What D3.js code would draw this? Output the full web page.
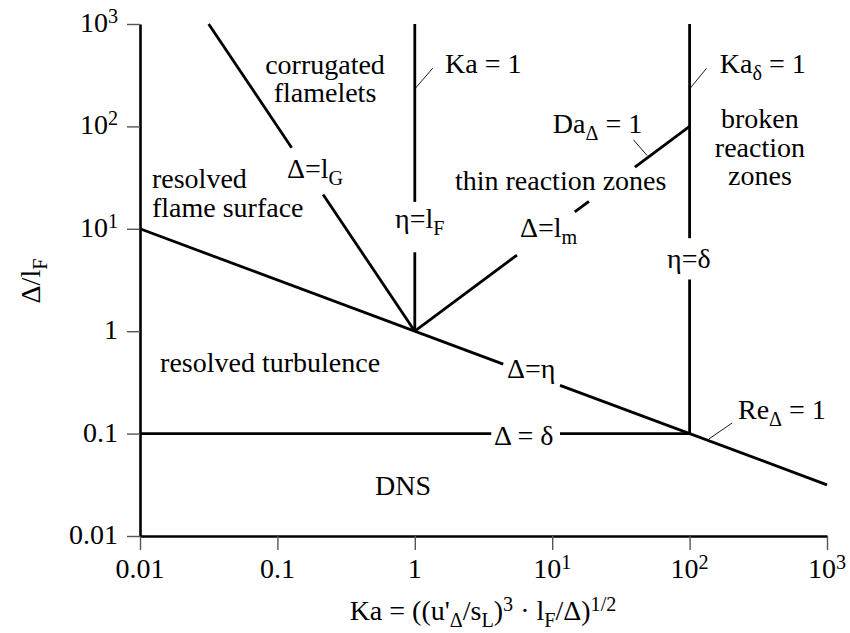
<!DOCTYPE html>
<html><head><meta charset="utf-8">
<script src="https://cdn.jsdelivr.net/npm/d3@7/dist/d3.min.js"></script>
<style>
html,body{margin:0;padding:0;background:#fff;}
</style></head>
<body><svg id="chart" width="850" height="633"></svg>
<script>
// ---- data ----
const xTicks = [0.01, 0.1, 1, 10, 100, 1000];
const xTickLabels = ["0.01", "0.1", "1", "10^{1}", "10^{2}", "10^{3}"];
const yTicks = [0.01, 0.1, 1, 10, 100, 1000];
const yTickLabels = ["0.01", "0.1", "1", "10^{1}", "10^{2}", "10^{3}"];

// regime boundary lines (Ka, Δ/lF), split where labels sit
const lineDeltaEta   = [[[0.01, 10], [4.4, 0.477]], [[11.4, 0.296], [1000, 0.0316]]];
const lineDeltaLG    = [[[0.0316, 1000], [0.127, 62]], [[0.215, 21.6], [1, 1]]];
const lineKa1        = [[[1, 1000], [1, 18.3]], [[1, 5.9], [1, 1]]];
const lineDeltaLm    = [[[1, 1], [5.54, 5.54]], [[14.6, 14.6], [18.5, 18.5]], [[40, 40], [100, 100]]];
const lineKaDelta1   = [[[100, 1000], [100, 8.1]], [[100, 3.2], [100, 0.1]]];
const lineDeltaDelta = [[[0.01, 0.1], [3.6, 0.1]], [[11.4, 0.1], [100, 0.1]]];
const boundaryLines = [lineDeltaEta, lineDeltaLG, lineKa1, lineDeltaLm, lineKaDelta1, lineDeltaDelta];

// thin leader lines
const leaderKa1      = [[1, 232], [1.35, 370]];
const leaderKaDelta  = [[100, 232], [133, 370]];
const leaderDa       = [[39, 74], [49, 52]];
const leaderRe       = [[138, 0.0885], [204, 0.127]];
const leaders = [leaderKa1, leaderKaDelta, leaderDa, leaderRe];

// region / line labels: text lines, anchor, data position (Ka, Δ/lF) of first baseline
const labels = [
  {t: ["resolved", "flame surface"], a: "start", p: [0.01222, 25.0]},
  {t: ["corrugated", "flamelets"], a: "middle", p: [0.222, 325]},
  {t: ["Ka = 1"], a: "start", p: [1.66, 332]},
  {t: ["Ka_{δ} = 1"], a: "start", p: [166, 332]},
  {t: ["Da_{Δ} = 1"], a: "start", p: [10.1, 86.2]},
  {t: ["broken", "reaction", "zones"], a: "middle", p: [325, 96.4]},
  {t: ["Δ=l_{G}"], a: "start", p: [0.1175, 31.3]},
  {t: ["η=l_{F}"], a: "start", p: [0.718, 10.2]},
  {t: ["thin reaction zones"], a: "start", p: [1.96, 23.9]},
  {t: ["Δ=l_{m}"], a: "start", p: [5.83, 8.32]},
  {t: ["η=δ"], a: "start", p: [68.5, 4.14]},
  {t: ["resolved turbulence"], a: "start", p: [0.014, 0.4]},
  {t: ["Δ=η"], a: "start", p: [4.69, 0.349]},
  {t: ["Δ = δ"], a: "start", p: [3.77, 0.0774]},
  {t: ["Re_{Δ} = 1"], a: "start", p: [225, 0.139]},
  {t: ["DNS"], a: "start", p: [0.513, 0.0251]}
];
const xTitle = "Ka = ((u'_{Δ}/s_{L})^{3} · l_{F}/Δ)^{1/2}";
const yTitle = "Δ/l_{F}";

// ---- drawing ----
const FONT = "'Liberation Serif', 'Times New Roman', Tinos, 'Noto Serif', 'DejaVu Serif', serif";
const FS = 28, LH = 28.5;
const svg = d3.select("#chart");
const x = d3.scaleLog().domain([0.01, 1000]).range([140, 827]);
const y = d3.scaleLog().domain([0.01, 1000]).range([536, 24]);

function rich(textSel, str, fs) {
  textSel.attr("font-family", FONT).attr("fill", "#000");
  const re = /(_|\^)\{([^}]*)\}/g;
  let last = 0, m, shift = 0;
  const parts = [];
  while ((m = re.exec(str)) !== null) {
    if (m.index > last) parts.push({k: "n", s: str.slice(last, m.index)});
    parts.push({k: m[1] === "_" ? "sub" : "sup", s: m[2]});
    last = re.lastIndex;
  }
  if (last < str.length) parts.push({k: "n", s: str.slice(last)});
  parts.forEach(p => {
    const ts = textSel.append("tspan").text(p.s);
    let target = 0;
    if (p.k === "sub") { target = fs * 0.24; ts.attr("font-size", fs * 0.72); }
    if (p.k === "sup") { target = -fs * 0.33; ts.attr("font-size", fs * 0.72); }
    if (target - shift !== 0) ts.attr("dy", target - shift);
    shift = target;
  });
}

// axes
const gx = svg.append("g").attr("transform", "translate(0,536)")
  .call(d3.axisBottom(x).tickValues(xTicks).tickSize(14).tickSizeOuter(0).tickFormat(""));
const gy = svg.append("g").attr("transform", "translate(140,0)")
  .call(d3.axisLeft(y).tickValues(yTicks).tickSize(13).tickSizeOuter(0).tickFormat(""));
[gx, gy].forEach(g => {
  g.select(".domain").attr("stroke", "#000").attr("stroke-width", 2.6);
  g.selectAll(".tick line").attr("stroke", "#555").attr("stroke-width", 1.4);
});

xTicks.forEach((v, i) => {
  const t = svg.append("text").attr("x", x(v)).attr("y", 578)
    .attr("text-anchor", "middle").attr("font-size", FS);
  rich(t, xTickLabels[i], FS);
});
yTicks.forEach((v, i) => {
  const t = svg.append("text").attr("x", 118).attr("y", y(v) + 8)
    .attr("text-anchor", "end").attr("font-size", FS);
  rich(t, yTickLabels[i], FS);
});

// titles
const xt = svg.append("text").attr("x", 483).attr("y", 620)
  .attr("text-anchor", "middle").attr("font-size", FS);
rich(xt, xTitle, FS);
const yt = svg.append("text").attr("transform", "translate(40,281) rotate(-90)")
  .attr("text-anchor", "middle").attr("font-size", FS);
rich(yt, yTitle, FS);

// boundary lines
const lineGen = d3.line().x(d => x(d[0])).y(d => y(d[1]));
boundaryLines.forEach(segs => segs.forEach(seg => {
  svg.append("path").attr("d", lineGen(seg)).attr("fill", "none")
    .attr("stroke", "#000").attr("stroke-width", 2.8).attr("stroke-linecap", "butt");
}));
leaders.forEach(seg => {
  svg.append("path").attr("d", lineGen(seg)).attr("fill", "none")
    .attr("stroke", "#000").attr("stroke-width", 0.9);
});

// labels
labels.forEach(L => {
  L.t.forEach((line, j) => {
    const t = svg.append("text").attr("x", x(L.p[0])).attr("y", y(L.p[1]) + j * LH)
      .attr("text-anchor", L.a).attr("font-size", FS);
    rich(t, line, FS);
  });
});
</script></body></html>
